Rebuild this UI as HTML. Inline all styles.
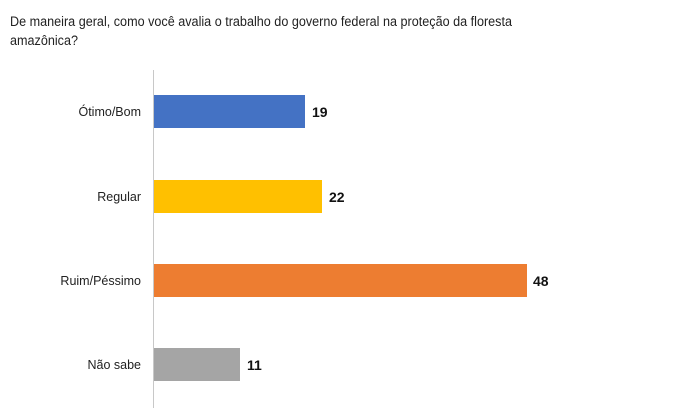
<!DOCTYPE html>
<html><head><meta charset="utf-8"><style>
html,body{margin:0;padding:0;background:#fff;}
svg{display:block;}
text{font-family:"Liberation Sans",sans-serif;}
</style></head><body>
<svg width="684" height="418" viewBox="0 0 684 418" xmlns="http://www.w3.org/2000/svg">
<text x="10" y="26" font-size="13.5" fill="#222" textLength="502" lengthAdjust="spacingAndGlyphs">De maneira geral, como você avalia o trabalho do governo federal na proteção da floresta</text>
<text x="10" y="45" font-size="13.5" fill="#222" textLength="68" lengthAdjust="spacingAndGlyphs">amazônica?</text>
<line x1="153.5" y1="70" x2="153.5" y2="408" stroke="#c8c8c8" stroke-width="1"/>
<rect x="154" y="95" width="151" height="33" fill="#4472c4"/>
<rect x="154" y="180" width="168" height="33" fill="#ffc000"/>
<rect x="154" y="264" width="373" height="33" fill="#ed7d31"/>
<rect x="154" y="348" width="86" height="33" fill="#a5a5a5"/>
<g font-size="12.5" fill="#222" text-anchor="end">
<text x="141" y="116">Ótimo/Bom</text>
<text x="141" y="201">Regular</text>
<text x="141" y="285">Ruim/Péssimo</text>
<text x="141" y="369">Não sabe</text>
</g>
<g font-size="14" font-weight="bold" fill="#111">
<text x="312" y="117">19</text>
<text x="329" y="202">22</text>
<text x="533" y="286">48</text>
<text x="247" y="370">11</text>
</g>
</svg>
</body></html>
